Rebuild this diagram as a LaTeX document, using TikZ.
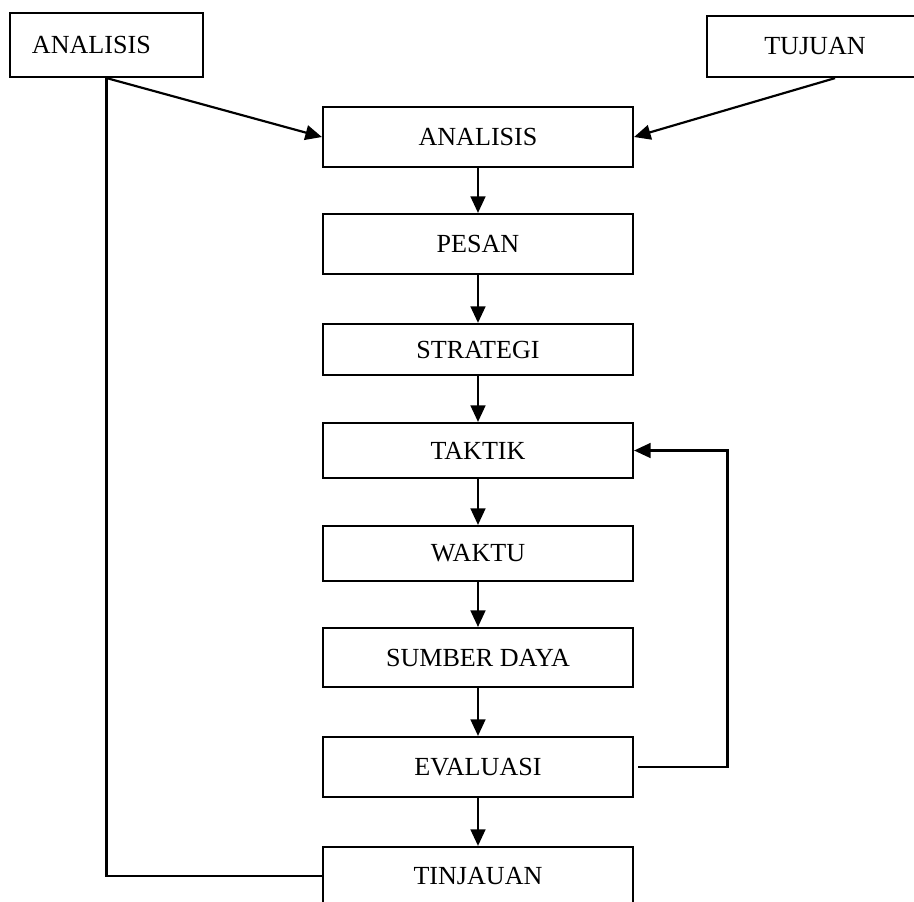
\documentclass[tikz,border=0pt]{standalone}
\usepackage{fontspec}
\setmainfont{Liberation Serif}
\usetikzlibrary{arrows.meta}
\begin{document}
\begin{tikzpicture}[x=0.46pt,y=-0.46pt,
  kotak/.style={draw,line width=1pt,minimum width=142.6pt,minimum height=25.3pt,
    font=\fontsize{12pt}{14pt}\selectfont},
  panah/.style={line width=1pt,-{Triangle[length=7.6pt,width=6.8pt]}},
  garis/.style={line width=1pt}]
\useasboundingbox (0,0) rectangle (914,902);

% kotak atas
\node[kotak,minimum width=88.8pt,minimum height=29.4pt,text width=68.6pt,
  inner xsep=10.1pt,align=left] (analisis0) at (106.5,45) {ANALISIS};
\node[kotak,minimum width=99.4pt,minimum height=28.1pt] (tujuan) at (815,46.5) {TUJUAN};

% alur utama
\node[kotak,minimum height=27.6pt] (analisis) at (478,137) {ANALISIS};
\node[kotak,minimum height=27.6pt] (pesan) at (478,244) {PESAN};
\node[kotak,minimum height=23.5pt] (strategi) at (478,349.5) {STRATEGI};
\node[kotak] (taktik) at (478,450.5) {TAKTIK};
\node[kotak] (waktu) at (478,553.5) {WAKTU};
\node[kotak,minimum height=27.1pt] (sumber) at (478,657.5) {SUMBER DAYA};
\node[kotak,minimum height=27.6pt] (evaluasi) at (478,767) {EVALUASI};
\node[kotak,minimum height=26.7pt] (tinjauan) at (478,876) {TINJAUAN};

\draw [panah] (analisis0.south) -- (analisis.west);
\draw [panah] ([xshift=9.2pt]tujuan.south) -- (analisis.east);

\draw [panah] (analisis) -- (pesan);
\draw [panah] (pesan) -- (strategi);
\draw [panah] (strategi) -- (taktik);
\draw [panah] (taktik) -- (waktu);
\draw [panah] (waktu) -- (sumber);
\draw [panah] (sumber) -- (evaluasi);
\draw [panah] (evaluasi) -- (tinjauan);

%\draw [panah] (evaluasi.east) -| (taktik.east);
\draw [panah] ([xshift=2pt]evaluasi.east) -- ++(89,0) |- (taktik.east);
\draw [garis] (analisis0.south) |- (tinjauan.west);

\end{tikzpicture}
\end{document}
